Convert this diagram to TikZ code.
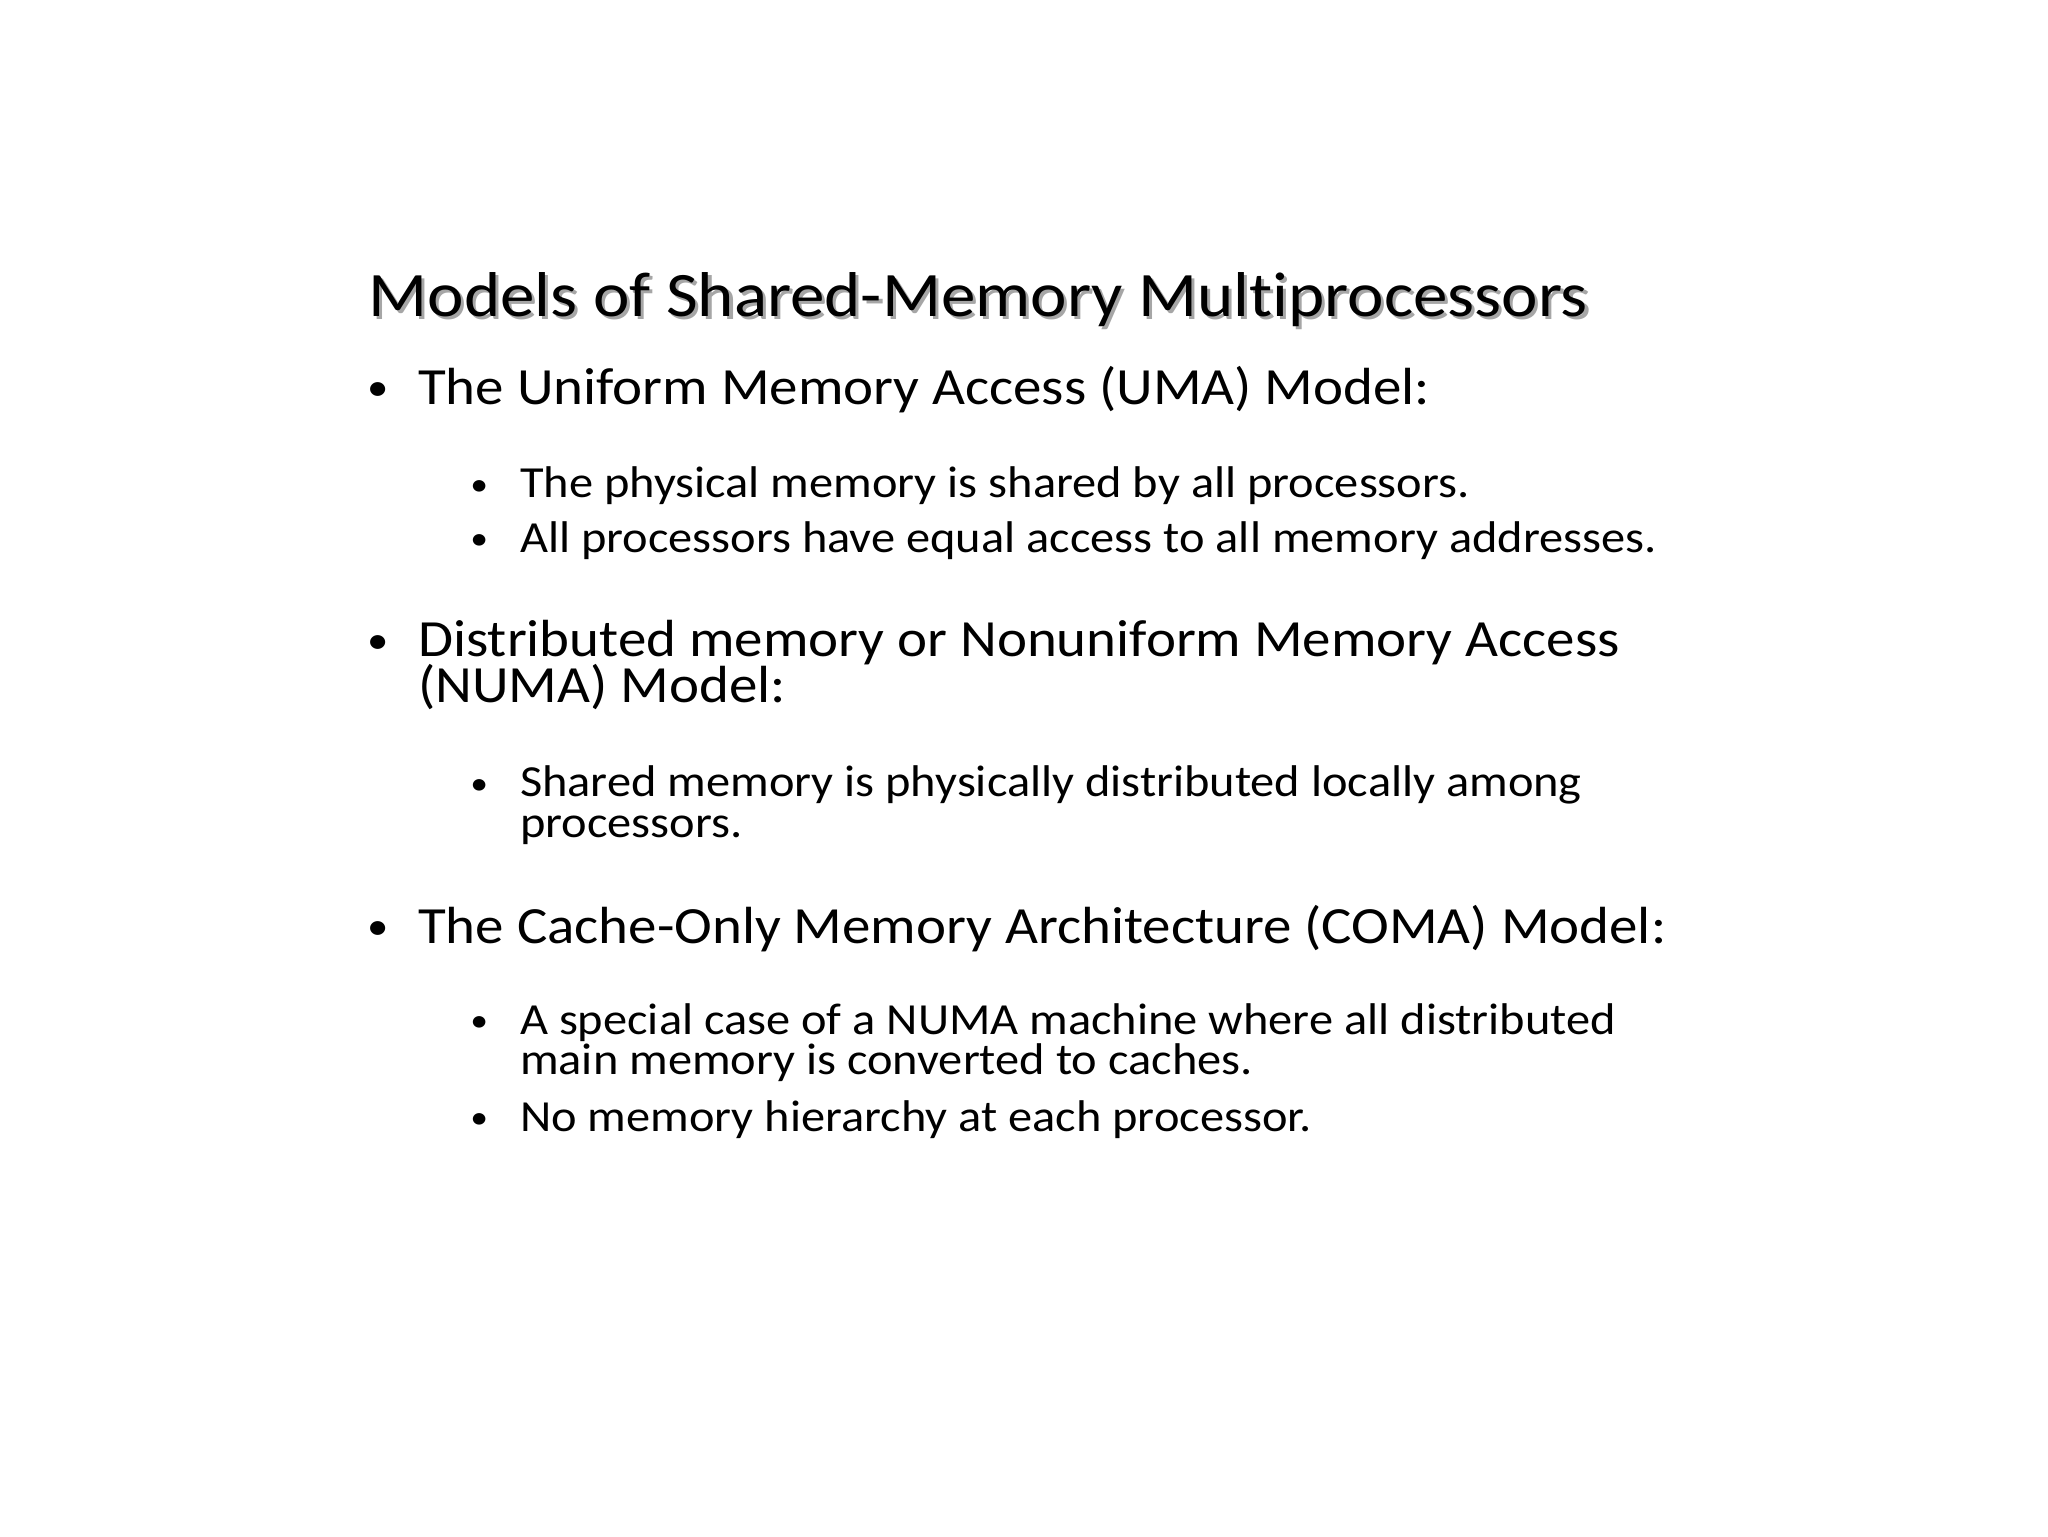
\documentclass[tikz,border=0pt]{standalone}
\usepackage{fontspec}
\setmainfont{Carlito}[FakeStretch=1.09,Ligatures=NoCommon]
\begin{document}
\begin{tikzpicture}[x=1pt,y=-1pt,
  t/.style={anchor=base west,inner sep=0pt},
  l1/.style={t,font=\fontsize{40}{40}\selectfont},
  l2/.style={t,font=\fontsize{34}{34}\selectfont},
  bu/.style={t,font=\fontsize{30}{30}\selectfont}]
\useasboundingbox (0,0) rectangle (1568,1176);
\node[t,font=\fontsize{48.5}{48}\selectfont,text=black!35] (ts) at (284.5,244.5) {Models of Shared-Memory Multiprocessors};
\node[t,font=\fontsize{48.5}{48}\selectfont] (title) at (282,242) {Models of Shared-Memory Multiprocessors};
\node[bu] (b1) at (281,307) {•};
\node[l1] (a1) at (320,310) {The Uniform Memory Access (UMA) Model:};
\node[bu,font=\fontsize{25}{25}\selectfont] (b11) at (360,379) {•};
\node[l2] (a11) at (398,381) {The physical memory is shared by all processors.};
\node[bu,font=\fontsize{25}{25}\selectfont] (b12) at (360,421) {•};
\node[l2] (a12) at (398,423) {All processors have equal access to all memory addresses.};
\node[bu] (b2) at (281,500) {•};
\node[l1] (a2) at (320,503) {Distributed memory or Nonuniform Memory Access};
\node[l1] (a2b) at (320,538) {(NUMA) Model:};
\node[bu,font=\fontsize{25}{25}\selectfont] (b21) at (360,608) {•};
\node[l2] (a21) at (398,610) {Shared memory is physically distributed locally among};
\node[l2] (a21b) at (398,641) {processors.};
\node[bu] (b3) at (281,719) {•};
\node[l1] (a3) at (320,722) {The Cache-Only Memory Architecture (COMA) Model:};
\node[bu,font=\fontsize{25}{25}\selectfont] (b31) at (360,790) {•};
\node[l2] (a31) at (398,792) {A special case of a NUMA machine where all distributed};
\node[l2] (a31b) at (398,823) {main memory is converted to caches.};
\node[bu,font=\fontsize{25}{25}\selectfont] (b32) at (360,864) {•};
\node[l2] (a32) at (398,866) {No memory hierarchy at each processor.};
\end{tikzpicture}
\end{document}
